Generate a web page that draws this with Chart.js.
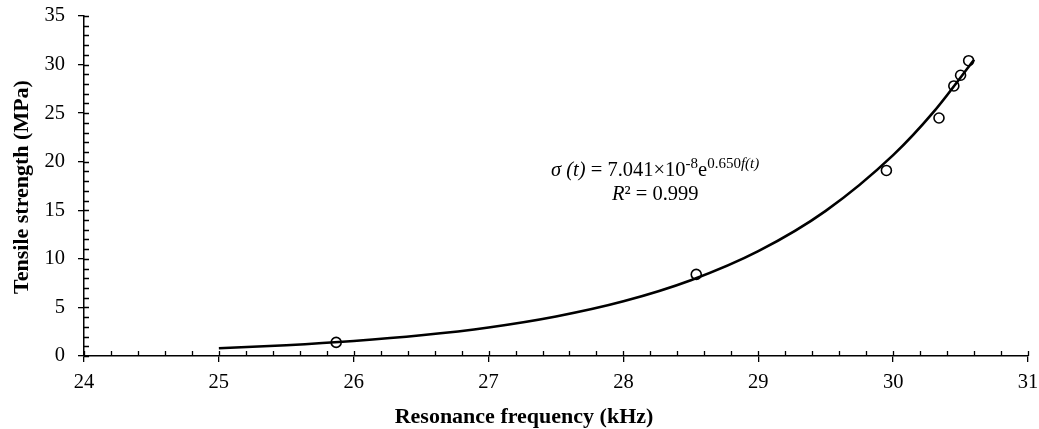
<!DOCTYPE html>
<html>
<head>
<meta charset="utf-8">
<script src="https://cdn.jsdelivr.net/npm/chart.js@4.4.0/dist/chart.umd.min.js"></script>
<style>
  html, body { margin: 0; padding: 0; background: #fff; }
  #wrap { width: 1039px; height: 429px; }
</style>
</head>
<body>
<div id="wrap"><canvas id="tensileChart" width="1039" height="429"></canvas></div>
<script>
// measured points
const freqKHz = [25.87, 28.54, 29.95, 30.34, 30.45, 30.50, 30.56];
const strengthMPa = [1.4, 8.4, 19.1, 24.5, 27.8, 28.9, 30.4];

// fitted curve
const fitFreq = [25.0, 25.5, 26.0, 26.5, 27.0, 27.5, 28.0, 28.5, 29.0, 29.5, 30.0, 30.3, 30.6];
const fitStrength = [0.80, 1.11, 1.54, 2.13, 2.94, 4.07, 5.63, 7.80, 10.79, 14.94, 20.68, 25.13, 30.5];

const xTicks = [24, 25, 26, 27, 28, 29, 30, 31];
const yTicks = [0, 5, 10, 15, 20, 25, 30, 35];

const serif = "'Liberation Serif', 'Times New Roman', serif";

// minor ticks + inner part of the major ticks
const minorTicks = {
  id: 'minorTicks',
  afterDraw(chart) {
    const ctx = chart.ctx;
    const xs = chart.scales.x, ys = chart.scales.y;
    const area = chart.chartArea;
    ctx.save();
    ctx.strokeStyle = '#000';
    ctx.lineWidth = 1.3;
    ctx.beginPath();
    for (let v = xTicks[0]; v <= xTicks[xTicks.length - 1] + 1e-6; v += 0.2) {
      const px = Math.round(xs.getPixelForValue(v)) + 0.5;
      ctx.moveTo(px, area.bottom);
      ctx.lineTo(px, area.bottom - 5);
    }
    for (let v = yTicks[0]; v <= yTicks[yTicks.length - 1] + 1e-6; v += 1) {
      const py = Math.round(ys.getPixelForValue(v)) + 0.5;
      ctx.moveTo(area.left, py);
      ctx.lineTo(area.left + 5, py);
    }
    ctx.stroke();
    ctx.restore();
  }
};

// axis titles and trendline equation
const labels = {
  id: 'labels',
  afterDraw(chart) {
    const ctx = chart.ctx;
    ctx.save();
    ctx.fillStyle = '#000';
    ctx.textBaseline = 'alphabetic';

    ctx.font = 'bold 22px ' + serif;
    ctx.textAlign = 'center';
    ctx.fillText('Resonance frequency (kHz)', 524, 423);

    ctx.save();
    ctx.translate(28, 187);
    ctx.rotate(-Math.PI / 2);
    ctx.fillText('Tensile strength (MPa)', 0, 0);
    ctx.restore();

    ctx.textAlign = 'left';
    const parts = [
      { t: 'σ (t)', f: 'italic 20.5px ' + serif, dy: 0 },
      { t: ' = 7.041×10', f: '20.5px ' + serif, dy: 0 },
      { t: '-8', f: '15px ' + serif, dy: -8 },
      { t: 'e', f: '20.5px ' + serif, dy: 0 },
      { t: '0.650', f: '15px ' + serif, dy: -8 },
      { t: 'f(t)', f: 'italic 15px ' + serif, dy: -8 }
    ];
    let x = 551, y = 176;
    parts.forEach(p => {
      ctx.font = p.f;
      ctx.fillText(p.t, x, y + p.dy);
      x += ctx.measureText(p.t).width;
    });
    const line2 = [
      { t: 'R', f: 'italic 20.5px ' + serif },
      { t: '²', f: '20.5px ' + serif },
      { t: ' = 0.999', f: '20.5px ' + serif }
    ];
    x = 612; y = 200;
    line2.forEach(p => {
      ctx.font = p.f;
      ctx.fillText(p.t, x, y);
      x += ctx.measureText(p.t).width;
    });
    ctx.restore();
  }
};

const ctx = document.getElementById('tensileChart').getContext('2d');
new Chart(ctx, {
  type: 'scatter',
  data: {
    datasets: [
      {
        label: 'Fit',
        data: fitFreq.map((f, i) => ({ x: f, y: fitStrength[i] })),
        showLine: true,
        borderColor: '#000',
        borderWidth: 2.6,
        pointRadius: 0,
        cubicInterpolationMode: 'monotone',
        fill: false,
        order: 2
      },
      {
        label: 'Measured',
        data: freqKHz.map((f, i) => ({ x: f, y: strengthMPa[i] })),
        showLine: false,
        pointRadius: 5,
        pointBorderWidth: 1.6,
        pointBorderColor: '#000',
        pointBackgroundColor: 'rgba(255,255,255,0)',
        order: 1
      }
    ]
  },
  options: {
    responsive: false,
    animation: false,
    layout: { padding: { top: 16, right: 11, left: 0, bottom: 0 } },
    plugins: { legend: { display: false }, tooltip: { enabled: false } },
    scales: {
      x: {
        type: 'linear',
        min: 24, max: 31,
        afterBuildTicks: s => { s.ticks = xTicks.map(v => ({ value: v })); },
        afterFit: s => { s.height = 73; s.paddingLeft = 0; s.paddingRight = 0; },
        border: { display: true, color: '#000', width: 1.5 },
        grid: { display: true, drawOnChartArea: false, drawTicks: true, tickLength: 6, color: '#000', lineWidth: 1.3 },
        ticks: { color: '#000', font: { family: serif, size: 20.5 }, padding: 8 }
      },
      y: {
        min: 0, max: 35,
        afterBuildTicks: s => { s.ticks = yTicks.map(v => ({ value: v })); },
        afterFit: s => { s.width = 84; s.paddingTop = 0; s.paddingBottom = 0; },
        border: { display: true, color: '#000', width: 1.5 },
        grid: { display: true, drawOnChartArea: false, drawTicks: true, tickLength: 6, color: '#000', lineWidth: 1.3 },
        ticks: { color: '#000', font: { family: serif, size: 20.5 }, padding: 13 }
      }
    }
  },
  plugins: [minorTicks, labels]
});
</script>
</body>
</html>
